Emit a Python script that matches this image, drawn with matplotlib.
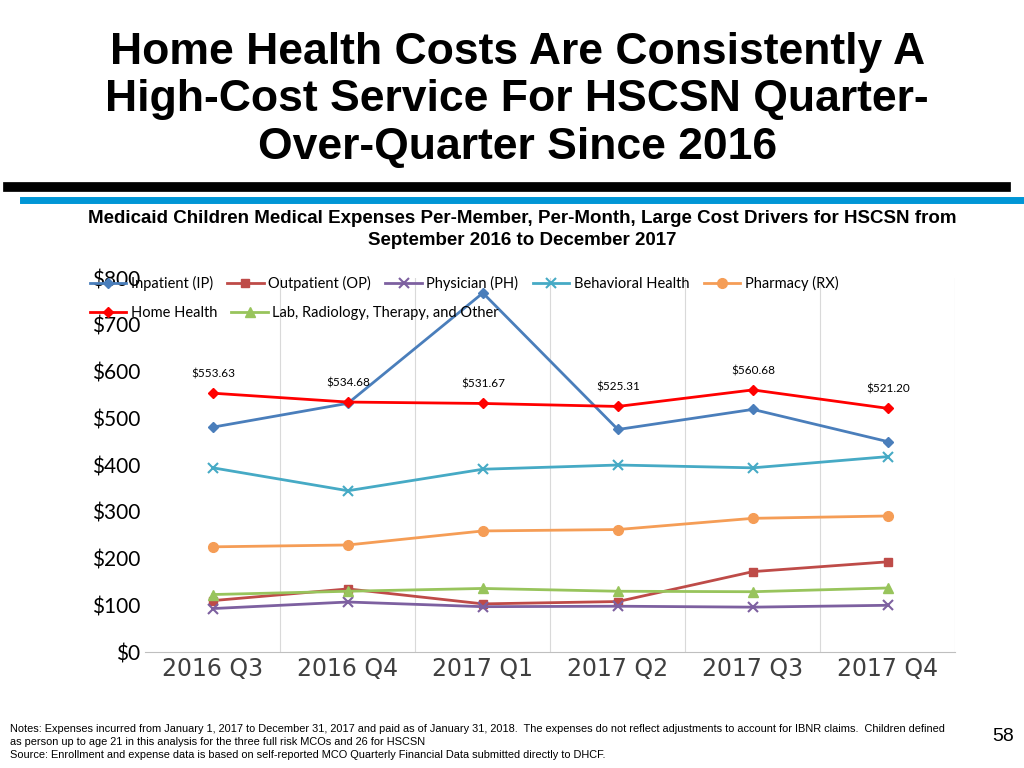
import matplotlib
matplotlib.use('Agg')
from matplotlib import pyplot as plt
from matplotlib.lines import Line2D

quarters = ['2016 Q3', '2016 Q4', '2017 Q1', '2017 Q2', '2017 Q3', '2017 Q4']
inpatient = [481, 532, 768, 476, 519, 450]
outpatient = [110, 135, 103, 108, 172, 193]
physician = [93, 107, 97, 98, 96, 100]
behavioral = [394, 345, 391, 400, 394, 418]
pharmacy = [225, 229, 259, 262, 286, 291]
home_health = [553.63, 534.68, 531.67, 525.31, 560.68, 521.20]
lab = [123, 130, 136, 130, 129, 137]

fig = plt.figure(figsize=(10.24, 7.68), dpi=100)
fig.text(0.505, 0.87, 'Home Health Costs Are Consistently A\nHigh-Cost Service For HSCSN Quarter-\nOver-Quarter Since 2016',
         ha='center', va='center', fontsize=32, fontweight='bold', family='Liberation Sans', linespacing=1.2)
fig.add_artist(Line2D([0.008, 0.982], [0.757, 0.757], color='black', lw=7))
fig.add_artist(Line2D([0.022, 0.998], [0.740, 0.740], color='#0096d6', lw=5))
fig.text(0.51, 0.701, 'Medicaid Children Medical Expenses Per-Member, Per-Month, Large Cost Drivers for HSCSN from\nSeptember 2016 to December 2017',
         ha='center', va='center', fontsize=13.5, fontweight='bold', family='Liberation Sans', linespacing=1.4)

ax = fig.add_axes([0.142, 0.151, 0.791, 0.487])
x = range(len(quarters))
h = []
h += ax.plot(x, inpatient, color='#4a7ebb', marker='D', ms=5, lw=2, label='Inpatient (IP)')
h += ax.plot(x, outpatient, color='#be4b48', marker='s', ms=6, lw=2, label='Outpatient (OP)')
h += ax.plot(x, physician, color='#7d60a0', marker='x', ms=7, mew=1.5, lw=2, label='Physician (PH)')
h += ax.plot(x, behavioral, color='#46aac5', marker='x', ms=7, mew=1.5, lw=2, label='Behavioral Health')
h += ax.plot(x, pharmacy, color='#f59d56', marker='o', ms=7, lw=2, label='Pharmacy (RX)')
h += ax.plot(x, home_health, color='#ff0000', marker='D', ms=5, lw=2, label='Home Health')
h += ax.plot(x, lab, color='#98c45c', marker='^', ms=7, lw=2, label='Lab, Radiology, Therapy, and Other')
for i, v in enumerate(home_health):
    ax.annotate('$%.2f' % v, (i, v), xytext=(0, 10), textcoords='offset points', ha='center', va='bottom', fontsize=8.5, family='Lato')

ax.set_xlim(-0.5, 5.5)
ax.set_ylim(0, 800)
ax.set_xticks(list(x))
ax.set_xticklabels(quarters, fontsize=17, family='DejaVu Sans', color='#404040')
ax.set_yticks(range(0, 801, 100))
ax.set_yticklabels(['$%d' % v for v in range(0, 801, 100)], fontsize=15, family='Lato')
for b in [0.5, 1.5, 2.5, 3.5, 4.5, 5.5]:
    ax.axvline(b, color='#d9d9d9', lw=0.8, zorder=0)
for s in ['top', 'right', 'left']:
    ax.spines[s].set_visible(False)
ax.spines['bottom'].set_color('#bfbfbf')
ax.tick_params(length=0)
leg1 = ax.legend(h[:5], [l.get_label() for l in h[:5]], loc='upper left', bbox_to_anchor=(-0.085, 1.04), ncol=5,
                 frameon=False, prop={'family': 'Lato', 'size': 10.5}, handlelength=2.5, columnspacing=1.0, handletextpad=0.3)
ax.add_artist(leg1)
ax.legend(h[5:], [l.get_label() for l in h[5:]], loc='upper left', bbox_to_anchor=(-0.085, 0.96), ncol=2,
          frameon=False, prop={'family': 'Lato', 'size': 10.5}, handlelength=2.5, columnspacing=1.0, handletextpad=0.3)

fig.text(0.01, 0.01, 'Notes: Expenses incurred from January 1, 2017 to December 31, 2017 and paid as of January 31, 2018.  The expenses do not reflect adjustments to account for IBNR claims.  Children defined\nas person up to age 21 in this analysis for the three full risk MCOs and 26 for HSCSN\nSource: Enrollment and expense data is based on self-reported MCO Quarterly Financial Data submitted directly to DHCF.',
         fontsize=7.9, family='Liberation Sans', va='bottom', linespacing=1.4)
fig.text(0.99, 0.035, '58', fontsize=14, family='Liberation Sans', ha='right')
fig.savefig('out.png', dpi=100)
